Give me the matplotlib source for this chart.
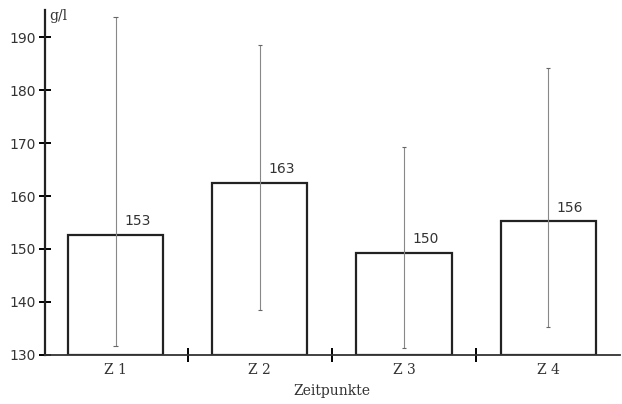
import matplotlib.pyplot as plt

# Werte
kategorien = ["Z 1", "Z 2", "Z 3", "Z 4"]
mittelwerte = [153, 163, 150, 156]
balken_oben = [152.7, 162.5, 149.3, 155.2]
fehler_unten = [131.7, 138.5, 131.3, 135.3]
fehler_oben = [193.8, 188.5, 169.2, 184.2]

fig = plt.figure(figsize=(6.22, 4.04), dpi=100)
ax = fig.add_axes([0.0723, 0.1213, 0.925, 0.854])

x = list(range(len(kategorien)))
ax.bar(x, [b - 130 for b in balken_oben], bottom=130, width=0.66,
       facecolor="white", edgecolor="#222222", linewidth=1.6, zorder=2)

for i in x:
    ax.vlines(i, fehler_unten[i], fehler_oben[i], color="#888888", linewidth=0.8, zorder=3)
    ax.hlines([fehler_unten[i], fehler_oben[i]], i - 0.015, i + 0.015,
              color="#666666", linewidth=0.8, zorder=3)
    ax.text(i + 0.06, balken_oben[i] + 1.3, str(mittelwerte[i]), ha="left", va="bottom",
            fontsize=10, color="#333333", family="DejaVu Sans")

ax.set_xlim(-0.49, 3.5)
ax.set_ylim(130, 195.1)

for s in ["top", "right"]:
    ax.spines[s].set_visible(False)
ax.spines["left"].set_linewidth(1.6)
ax.spines["bottom"].set_linewidth(1.3)
ax.spines["left"].set_color("#222222")
ax.spines["bottom"].set_color("#333333")

ax.set_yticks(range(130, 191, 10))
ax.tick_params(axis="y", direction="inout", length=9, width=1.4, labelsize=10,
               labelcolor="#333333", pad=2)
ax.set_xticks([0.5, 1.5, 2.5])
ax.set_xticklabels([])
ax.tick_params(axis="x", direction="inout", length=10, width=1.4)

for i, k in enumerate(kategorien):
    ax.text(i, 127.2, k, ha="center", va="center", fontsize=10,
            family="DejaVu Serif", color="#333333")
ax.text(1.5, 123.3, "Zeitpunkte", ha="center", va="center", fontsize=10,
        family="DejaVu Serif", color="#333333")
ax.text(-0.46, 194.0, "g/l", ha="left", va="center", fontsize=10,
        family="DejaVu Serif", color="#333333")

plt.savefig("out.png", dpi=100)
